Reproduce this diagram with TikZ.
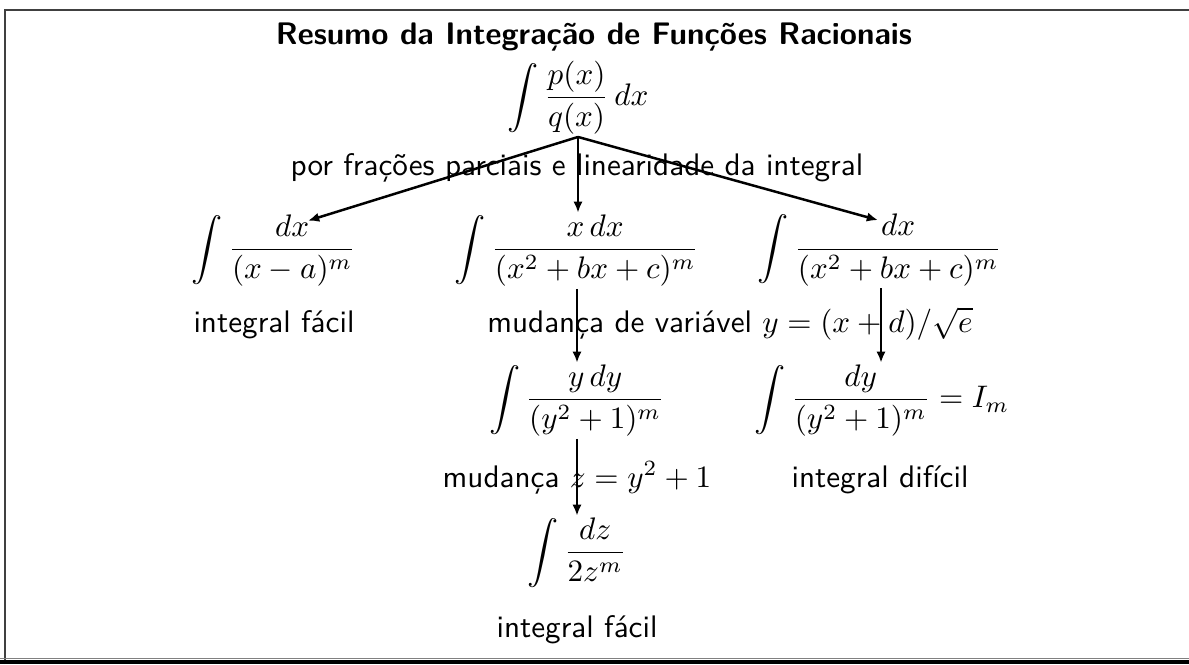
\documentclass[tikz,border=0pt]{standalone}
\usepackage{fontspec}
\usepackage{amsmath}
\usetikzlibrary{arrows.meta,calc}
\begin{document}
\begin{tikzpicture}[x=0.321pt,y=-0.321pt,
  lbl/.style={font=\sffamily, anchor=base, inner sep=0pt},
  mnode/.style={anchor=base, inner sep=0.5pt},
  arr/.style={-{Latex[length=3.6pt,width=3pt]}, line width=0.8pt}]
\useasboundingbox (0,0) rectangle (1189,664);
% frame
\draw[line width=0.6pt, black!75] (5,664) -- (5,10) -- (1189,10);
\draw[line width=0.5pt, black!50] (0,658.5) -- (1189,658.5);
\draw[line width=1.4pt, black] (0,662) -- (1189,662);
% title
\node[lbl, font=\sffamily\bfseries] (title) at (594,44) {Resumo da Integração de Funções Racionais};
% nodes
\node[mnode] (top) at (578,105.6) {$\displaystyle\int\frac{p(x)}{q(x)}\,dx$};
\node[lbl] (por) at (577,175) {por frações parciais e linearidade da integral};
\node[mnode] (A) at (274,257.6) {$\displaystyle\int\frac{dx}{(x-a)^m}$};
\node[mnode] (B) at (577,257.6) {$\displaystyle\int\frac{x\,dx}{(x^2+bx+c)^m}$};
\node[mnode] (C) at (880,257) {$\displaystyle\int\frac{dx}{(x^2+bx+c)^m}$};
\node[lbl] (fa) at (274,332) {integral fácil};
\node[lbl] (mv) at (730,332) {mudança de variável $y=(x+d)/\sqrt{e}$};
\node[mnode] (D) at (577,407.6) {$\displaystyle\int\frac{y\,dy}{(y^2+1)^m}$};
\node[mnode] (E) at (882,407.6) {$\displaystyle\int\frac{dy}{(y^2+1)^m}=I_m$};
\node[lbl] (mz) at (577,487) {mudança $z=y^2+1$};
\node[lbl] (di) at (880,487) {integral difícil};
\node[mnode] (F) at (577,560.6) {$\displaystyle\int\frac{dz}{2z^m}$};
\node[lbl] (fb) at (577,637) {integral fácil};
% arrows
\coordinate (o) at (top.south);
\draw[arr] (o) -- ($(A.north)+(34,8)$);
\draw[arr] (o) -- (o |- B.north);
\draw[arr] (o) -- ($(C.north)+(-2,8)$);
\draw[arr] (B.south) -- (B.south |- D.north);
\draw[arr] ($(C.south)+(1,0)$) -- ($(C.south |- E.north)+(1,0)$);
\draw[arr] (D.south) -- (D.south |- F.north);
\end{tikzpicture}
\end{document}
